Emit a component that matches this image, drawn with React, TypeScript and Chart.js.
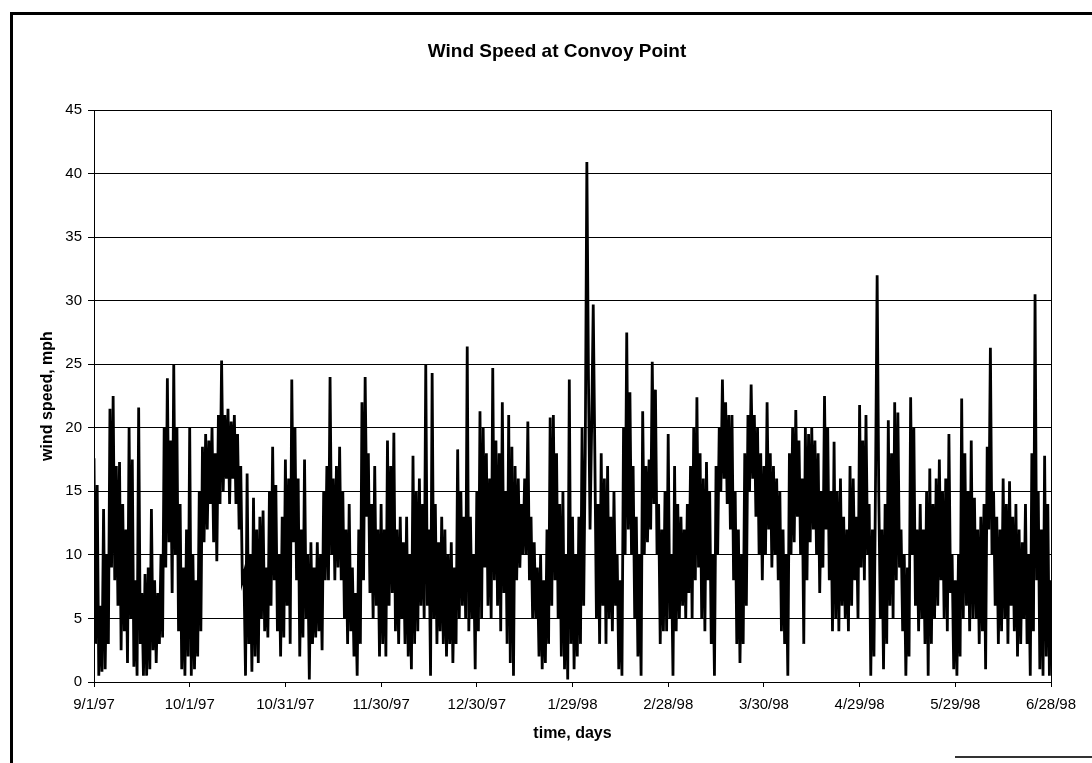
import React, { useEffect, useRef } from "react";
import { Chart, registerables } from "chart.js";

Chart.register(...registerables);

const chartTitle = "Wind Speed at Convoy Point";
const xAxisTitle = "time, days";
const yAxisTitle = "wind speed, mph";
const xTickLabels = ["9/1/97", "10/1/97", "10/31/97", "11/30/97", "12/30/97", "1/29/98", "2/28/98", "3/30/98", "4/29/98", "5/29/98", "6/28/98"];
const daysPerTick = 30;
const samplesPerDay = 2;
const yMin = 0;
const yMax = 45;
const yStep = 5;

// wind speed (mph), two readings per day, in 30-day blocks starting 9/1/97
const block1 = [17.6, 3, 15.5, 0.5, 6, 0.8, 13.6, 1, 10, 3, 21.5, 9, 22.5, 8, 17, 6, 17.3, 2.5, 14, 4, 12, 1.5, 20, 5, 17.5, 1.2, 8, 0.5, 21.6, 3, 7, 0.5, 8.5, 0.5, 9, 1, 13.6, 2.5, 8, 1.5, 7, 3, 10, 3.5, 20, 9, 23.9, 11, 19, 7, 25, 10, 20, 4, 14, 1, 9, 0.5, 12, 2];
const block2 = [20, 0.5, 10, 1, 8, 2, 15, 4, 18.5, 11, 19.5, 12, 19, 14, 20, 11, 18, 9.5, 21, 14, 25.3, 15, 21, 16, 21.5, 14, 20.5, 16, 21, 14, 19.5, 12, 17, 8, 8.5, 0.5, 16.4, 3, 10, 0.8, 14.5, 2, 12, 1.5, 13, 5, 13.5, 4, 9, 3.5, 15, 6, 18.5, 8, 15.5, 4, 10, 2, 13, 3.5];
const block3 = [17.5, 6, 16, 3, 23.8, 11, 20, 8, 16, 2, 12, 3.5, 17.5, 5, 10, 0.2, 11, 3, 9, 3.5, 11, 4, 10, 2.5, 15, 8, 17, 8, 24, 10, 16, 8, 17, 9, 18.5, 8, 15, 5, 12, 3, 14, 4, 9, 2, 7, 0.5, 12, 3, 22, 8, 24, 13, 18, 7, 14, 5, 17, 6, 12, 2];
const block4 = [14, 3, 12, 2, 19, 6, 17, 7, 19.6, 4, 12, 3, 13, 5, 11, 3, 13, 2, 10, 1, 17.8, 3, 15, 4, 16, 6, 14, 5, 25, 6, 12, 0.5, 24.3, 5, 14, 3, 11, 4, 13, 3, 12, 2, 10, 3, 11, 1.5, 9, 3, 18.3, 5, 15, 6, 13, 5, 26.4, 4, 13, 5, 10, 1];
const block5 = [15, 4, 21.3, 5, 20, 9, 18, 6, 16, 5, 24.7, 8, 19, 6, 18, 4, 22, 7, 15, 3, 21, 1.5, 18.5, 0.5, 17, 8, 16, 9, 14, 10, 16, 10, 20.5, 8, 13, 5, 11, 5, 9, 2, 10, 1, 8, 1.5, 12, 3, 20.8, 6, 21, 8, 18, 5, 14, 2, 15, 1, 10, 0.2, 23.8, 3];
const block6 = [13, 1, 10, 2, 13, 3, 20, 6, 18, 40.9, 24, 12, 20, 29.7, 18, 5, 14, 3, 18, 6, 16, 3, 17, 5, 13, 4, 15, 6, 10, 1, 8, 0.5, 20, 10, 27.5, 12, 22.8, 10, 17, 5, 13, 2, 10, 0.5, 21.3, 10, 17, 11, 17.5, 12, 25.2, 14, 23, 10, 14, 3, 12, 4, 15, 4];
const block7 = [19.5, 5, 10, 0.5, 17, 4, 14, 5, 13, 6, 12, 5, 14, 7, 17, 5, 20, 8, 22.4, 9, 18, 5, 16, 4, 17.3, 8, 15, 3, 10, 0.5, 17, 10, 20, 15, 23.8, 16, 22, 14, 21, 12, 21, 8, 15, 3, 12, 1.5, 10, 3, 18, 6, 21, 15, 23.4, 16, 21, 13, 20, 10, 18, 8];
const block8 = [17, 10, 22, 12, 18, 9, 17, 10, 16, 8, 15, 4, 12, 3, 10, 0.5, 18, 10, 20, 11, 21.4, 13, 19, 10, 16, 3, 20, 8, 19.5, 11, 20, 12, 19, 10, 18, 7, 15, 9, 22.5, 12, 20, 8, 15, 4, 18.9, 5, 15, 4, 16, 6, 13, 5, 12, 4, 17, 6, 16, 8, 13, 5];
const block9 = [21.8, 9, 19, 8, 21, 10, 14, 0.5, 12, 2, 16, 32, 15, 5, 12, 1, 14, 3, 20.6, 6, 18, 5, 22, 8, 21.2, 9, 12, 4, 10, 0.5, 9, 2, 22.4, 10, 20, 6, 12, 4, 14, 5, 12, 3, 15, 0.5, 16.8, 3, 14, 5, 16, 6, 17.5, 8, 15, 5, 16, 4, 19.5, 7, 10, 1];
const block10 = [8, 0.5, 10, 2, 22.3, 5, 18, 6, 15, 4, 19, 5, 14.5, 5, 12, 3, 13, 4, 14, 1, 18.5, 12, 26.3, 10, 15, 6, 13, 3, 12, 4, 16, 5, 14, 3, 15.8, 6, 13, 4, 14, 2, 12, 3, 11, 5, 14, 3, 10, 0.5, 18, 4, 30.5, 8, 15, 1, 12, 0.5, 17.8, 2, 14, 0.5, 8];

const windSpeed = [...block1, ...block2, ...block3, ...block4, ...block5, ...block6, ...block7, ...block8, ...block9, ...block10];

const FONT = 'Arial, "Liberation Sans", sans-serif';

export default function App() {
  const canvasRef = useRef<HTMLCanvasElement | null>(null);

  useEffect(() => {
    const canvas = canvasRef.current;
    if (!canvas) return;
    const points = windSpeed.map((v, i) => ({ x: i / samplesPerDay, y: v }));
    const lastDay = (xTickLabels.length - 1) * daysPerTick;

    const titlePlugin = {
      id: "customTitle",
      afterDraw(chart: any) {
        const ctx = chart.ctx;
        ctx.save();
        ctx.font = `bold 19px ${FONT}`;
        ctx.fillStyle = "#000";
        ctx.textAlign = "center";
        ctx.textBaseline = "middle";
        ctx.fillText(chartTitle, 557, 52);
        ctx.restore();
      },
    };
    const plotBorder = {
      id: "plotBorder",
      afterDatasetsDraw(chart: any) {
        const { ctx, chartArea } = chart;
        ctx.save();
        ctx.strokeStyle = "#000";
        ctx.lineWidth = 1;
        ctx.strokeRect(Math.round(chartArea.left) + 0.5, Math.round(chartArea.top) + 0.5, Math.round(chartArea.right - chartArea.left), Math.round(chartArea.bottom - chartArea.top));
        ctx.restore();
      },
    };

    const chart = new Chart(canvas, {
      type: "line",
      data: {
        datasets: [
          {
            data: points,
            borderColor: "#000",
            borderWidth: 2.8,
            borderJoinStyle: "miter",
            pointRadius: 0,
            tension: 0,
            fill: false,
          },
        ],
      },
      options: {
        responsive: false,
        animation: false,
        devicePixelRatio: 1,
        layout: { padding: { left: 10, right: 41, top: 110, bottom: 0 } },
        plugins: { legend: { display: false }, title: { display: false }, tooltip: { enabled: false } },
        scales: {
          x: {
            type: "linear",
            min: 0,
            max: lastDay,
            afterFit: (s: any) => {
              s.height = 81;
            },
            ticks: {
              stepSize: daysPerTick,
              autoSkip: false,
              maxRotation: 0,
              padding: 9,
              color: "#000",
              font: { family: FONT, size: 15 },
              callback: (value: any) => {
                const v = Number(value);
                return v % daysPerTick === 0 ? xTickLabels[v / daysPerTick] : "";
              },
            },
            grid: { display: true, drawOnChartArea: false, drawTicks: true, tickLength: 5, color: "#000" },
            border: { display: true, color: "#000", width: 1 },
            title: {
              display: true,
              text: xAxisTitle,
              color: "#000",
              font: { family: FONT, size: 16, weight: "bold" },
              padding: { top: 0, bottom: 20 },
            },
          },
          y: {
            min: yMin,
            max: yMax,
            afterFit: (s: any) => {
              s.width = 84;
            },
            ticks: {
              stepSize: yStep,
              padding: 6,
              color: "#000",
              font: { family: FONT, size: 15 },
            },
            grid: { color: "#000", lineWidth: 1, drawTicks: true, tickLength: 6 },
            border: { display: true, color: "#000", width: 1 },
            title: {
              display: true,
              text: yAxisTitle,
              color: "#000",
              font: { family: FONT, size: 16, weight: "bold" },
              padding: { top: 28, bottom: 0 },
            },
          },
        },
      },
      plugins: [titlePlugin, plotBorder],
    });
    return () => chart.destroy();
  }, []);

  return (
    <div style={{ position: "absolute", left: 0, top: 0, width: 1092, height: 763, background: "#fff", overflow: "hidden" }}>
      <div style={{ position: "absolute", left: 10, top: 12, width: 1082, height: 751, borderLeft: "3px solid #000", borderTop: "3px solid #000", boxSizing: "border-box" }} />
      <div style={{ position: "absolute", left: 955, top: 756, width: 137, height: 2, background: "#333" }} />
      <canvas ref={canvasRef} width={1092} height={763} style={{ position: "absolute", left: 0, top: 0, display: "block" }} />
    </div>
  );
}
